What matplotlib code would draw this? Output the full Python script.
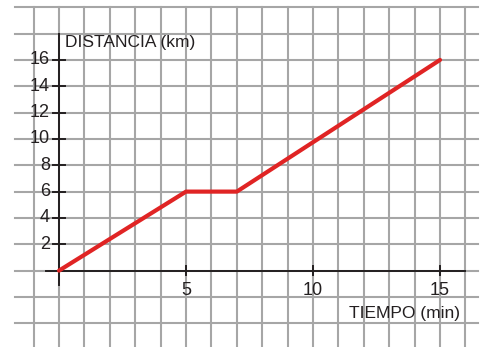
import matplotlib.pyplot as plt

plt.rcParams['font.family'] = ['Liberation Sans', 'DejaVu Sans']

# Données
tiempo = [0, 5, 7, 15]
distancia = [0, 6, 6, 16]
xticks = [5, 10, 15]
yticks = [2, 4, 6, 8, 10, 12, 14, 16]

fig = plt.figure(figsize=(4.86, 3.47), dpi=100)
ax = fig.add_axes([0, 0, 1, 1])
ax.set_xlim(-2.323, 16.81)
ax.set_ylim(-5.80, 20.55)
ax.axis('off')

# Quadrillage (papier millimétré)
grid_kw = dict(color='#a6a6a6', linewidth=1.5, zorder=1)
for gx in range(-1, 17):
    ax.plot([gx, gx], [-6, 20], **grid_kw)
for gy in range(-4, 21, 2):
    ax.plot([-1.74, 16.5], [gy, gy], **grid_kw)

# Axes
axis_kw = dict(color='#231f20', linewidth=1.4, zorder=2)
ax.plot([-0.5, 16], [0, 0], **axis_kw)
ax.plot([0, 0], [-1.1, 18], **axis_kw)
for t in xticks:
    ax.plot([t, t], [-0.35, 0.35], **axis_kw)
    ax.text(t, -1.5, str(t), ha='center', va='center', fontsize=13, color='#231f20', zorder=3)
for t in yticks:
    ax.plot([-0.25, 0.25], [t, t], **axis_kw)
    ax.text(-0.35, t, str(t), ha='right', va='center', fontsize=13, color='#231f20', zorder=3)

ax.text(0.25, 17.3, 'DISTANCIA (km)', ha='left', va='center', fontsize=12.5, color='#231f20', zorder=3)
ax.text(15.8, -3.25, 'TIEMPO (min)', ha='right', va='center', fontsize=12.5, color='#231f20', zorder=3)

# Courbe
ax.plot(tiempo, distancia, color='#e02424', linewidth=3, solid_capstyle='round',
        solid_joinstyle='round', zorder=4)

plt.savefig('out.png', dpi=100)
